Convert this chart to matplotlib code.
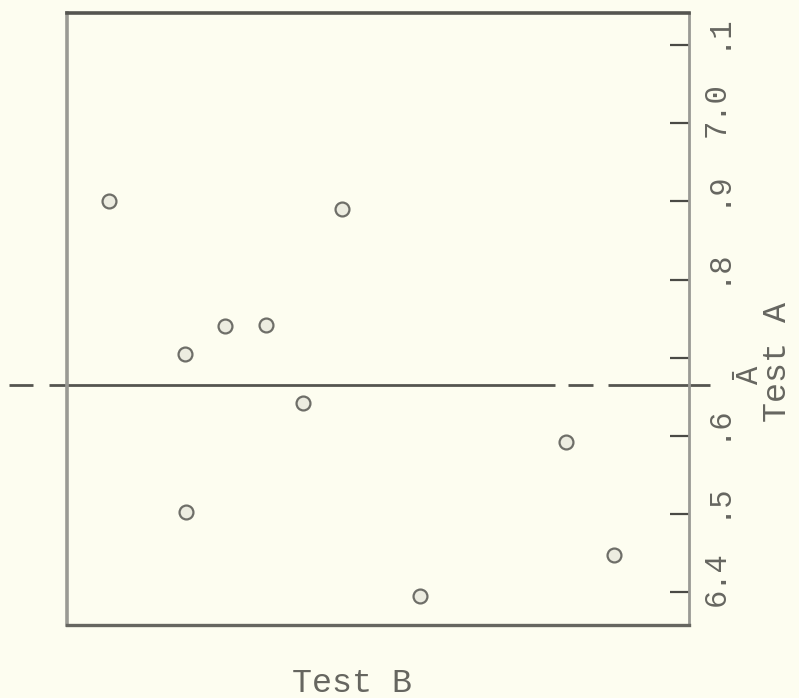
import matplotlib.pyplot as plt
from matplotlib.transforms import blended_transform_factory, ScaledTranslation

# Test B scores (arbitrary horizontal units, no scale shown) and Test A scores
test_b = [6.8, 44.2, 25.4, 32.0, 19.0, 37.9, 80.2, 19.1, 87.9, 56.8]
test_a = [6.900, 6.890, 6.741, 6.742, 6.705, 6.642, 6.592, 6.502, 6.447, 6.395]

# mean of Test A as drawn in the figure
a_mean = 6.665

a_ticks = [6.4, 6.5, 6.6, 6.7, 6.8, 6.9, 7.0, 7.1]
a_tick_labels = ["6.4", ".5", ".6", "", ".8", ".9", "7.0", ".1"]

bg = "#fdfdf0"
ink = "#666660"
mono = ["Liberation Mono", "DejaVu Sans Mono"]

fig = plt.figure(figsize=(7.99, 6.98), dpi=100, facecolor=bg)
ax = fig.add_axes([0.0839, 0.1046, 0.7785, 0.8768])
ax.set_facecolor(bg)

ax.plot(test_b, test_a, linestyle="none", marker="o", markersize=10,
        markerfacecolor="#ecece0", markeredgecolor="#6e6e68", markeredgewidth=1.6)

# broken line at the mean, running past the frame on both sides
trans = ax.get_yaxis_transform()
for x0, x1 in [(-0.093, -0.055), (-0.029, 0.785), (0.805, 0.846), (0.870, 1.034)]:
    ax.plot([x0, x1], [a_mean, a_mean], color="#555550", linewidth=2.0,
            transform=trans, clip_on=False, solid_capstyle="butt")

ax.set_xlim(0, 100)
ax.set_ylim(6.358, 7.141)

ax.set_xticks([])
ax.yaxis.tick_right()
ax.set_yticks(a_ticks)
ax.set_yticklabels(a_tick_labels, rotation=90, fontsize=22, color=ink, family=mono, va="center")
ax.tick_params(axis="y", direction="in", length=14, width=1.6, color="#4a4a45", pad=9)

# typed labels sit a little above their ticks
shift = ScaledTranslation(0, 10 / 72, fig.dpi_scale_trans)
for lab in ax.get_yticklabels():
    lab.set_transform(lab.get_transform() + shift)

for side, col, lw in [("left", "#9a9a94", 2.6), ("right", "#9a9a94", 2.0),
                      ("top", "#555550", 2.6), ("bottom", "#666660", 2.4)]:
    ax.spines[side].set_color(col)
    ax.spines[side].set_linewidth(lw)

ax.text(1.098, a_mean + 0.012, "Ā", transform=blended_transform_factory(ax.transAxes, ax.transData),
        rotation=90, ha="center", va="center", fontsize=22, color=ink, family=mono)

fig.text(0.9735, 0.4814, "Test A", rotation=90, ha="center", va="center",
         fontsize=24, color=ink, family=mono)
fig.text(0.4406, 0.0201, "Test B", ha="center", va="center",
         fontsize=24, color=ink, family=mono)

fig.savefig("out.png", dpi=100, facecolor=bg)
